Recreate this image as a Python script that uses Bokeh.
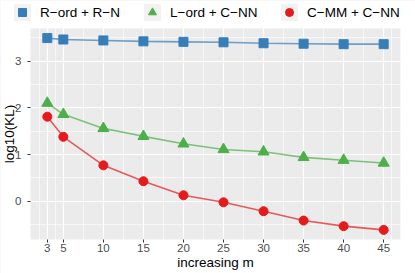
import math
from bokeh.plotting import figure
from bokeh.models import Range1d, FixedTicker, Legend, LegendItem, BoxAnnotation, Label
from bokeh.embed import file_html
from bokeh.resources import INLINE

# ---- data ----
m = [3, 5, 10, 15, 20, 25, 30, 35, 40, 45]
rord_rn = [3.49, 3.46, 3.44, 3.42, 3.41, 3.40, 3.38, 3.37, 3.36, 3.36]
lord_cnn = [2.10, 1.86, 1.56, 1.39, 1.23, 1.11, 1.06, 0.94, 0.88, 0.82]
cmm_cnn = [1.81, 1.38, 0.77, 0.43, 0.13, -0.02, -0.21, -0.41, -0.53, -0.61]
series_names = ["R\u2212ord + R\u2212N", "L\u2212ord + C\u2212NN", "C\u2212MM + C\u2212NN"]
x_ticks = [3, 5, 10, 15, 20, 25, 30, 35, 40, 45]
y_ticks = [0, 1, 2, 3]

colors = ["#377EB8", "#4DAF4A", "#E41A1C"]
markers = ["square", "triangle", "circle"]
msizes = [9, 11, 9]
FONT = "Liberation Sans"

# ---- layout (pixels inside the canvas, frame = whole canvas) ----
W, H = 415, 273
PL, PR, PT, PB = 30, 400, 28, 239      # panel edges
YTITLE_X = 9                            # centre of y title
XTITLE_Y = 262                          # centre of x title
LEG_H = 20
LEG_CY = 12
leg_x = [12, 142, 279]                  # legend item left edges
KEY = 17                                # legend key background size

# panel data extents (ggplot-like 5% expansion)
allv = rord_rn + lord_cnn + cmm_cnn
ylo, yhi = min(allv), max(allv)
dy = (yhi - ylo) * 0.05
xlo, xhi = min(m), max(m)
dx = (xhi - xlo) * 0.05
px0, px1 = xlo - dx, xhi + dx
py0, py1 = ylo - dy, yhi + dy
kx = (px1 - px0) / (PR - PL)
ky = (py1 - py0) / (PB - PT)
xr = Range1d(px0 - PL * kx, px1 + (W - PR) * kx)
yr = Range1d(py0 - (H - PB) * ky, py1 + PT * ky)

def X(px):
    return xr.start + px * kx

def Y(py):
    return yr.end - py * ky

p = figure(width=W, height=H, output_backend="svg", toolbar_location=None,
           x_range=xr, y_range=yr,
           min_border_left=0, min_border_right=0, min_border_top=0, min_border_bottom=0)
p.outline_line_color = None
p.background_fill_color = "#EBEBEB"
p.border_fill_color = "white"

# minor breaks like ggplot
def minor_breaks(b, lo, hi):
    bd = b[1] - b[0]
    bb = list(b)
    if lo < bb[0]:
        bb = [bb[0] - bd] + bb
    if hi > bb[-1]:
        bb = bb + [bb[-1] + bd]
    mids = [(bb[i] + bb[i + 1]) / 2 for i in range(len(bb) - 1)]
    return [v for v in mids if lo <= v <= hi]

p.xaxis.ticker = FixedTicker(ticks=x_ticks, minor_ticks=minor_breaks(x_ticks, px0, px1))
p.yaxis.ticker = FixedTicker(ticks=y_ticks, minor_ticks=minor_breaks(y_ticks, py0, py1))

for g in (p.xgrid, p.ygrid):
    g.grid_line_color = "white"
    g.grid_line_width = 1.2
    g.minor_grid_line_color = "white"
    g.minor_grid_line_width = 0.6

# white surround outside the panel (drawn over the grid, under glyphs/axes)
for kw in (dict(bottom=py1), dict(top=py0), dict(right=px0), dict(left=px1)):
    p.add_layout(BoxAnnotation(fill_color="white", fill_alpha=1.0, line_color=None,
                               level="underlay", **kw))

p.xaxis.fixed_location = py0
p.yaxis.fixed_location = px0
for ax in (p.xaxis, p.yaxis):
    ax.axis_line_color = None
    ax.major_tick_line_color = "#333333"
    ax.major_tick_out = 3
    ax.major_tick_in = 0
    ax.minor_tick_line_color = None
    ax.major_label_text_font = FONT
    ax.major_label_text_font_size = "11.5px"
    ax.major_label_text_color = "#4D4D4D"
p.xaxis.major_label_standoff = 0
p.yaxis.major_label_standoff = 5

# lines then points
ys = [rord_rn, lord_cnn, cmm_cnn]
for yv, c in zip(ys, colors):
    p.line(m, yv, line_color=c, line_width=1.6, line_alpha=0.7)
pts = []
for yv, c, mk, s in zip(ys, colors, markers, msizes):
    pts.append(p.scatter(m, yv, marker=mk, size=s, fill_color=c, line_color=c))

# axis titles
p.add_layout(Label(x=(px0 + px1) / 2, y=Y(XTITLE_Y), text="increasing m",
                   text_align="center", text_baseline="middle",
                   text_font=FONT, text_font_size="13.5px", text_color="black"))
p.add_layout(Label(x=X(YTITLE_X), y=(py0 + py1) / 2, text="log10(KL)",
                   angle=math.pi / 2, text_align="center", text_baseline="middle",
                   text_font=FONT, text_font_size="13.5px", text_color="black"))

# legend key backgrounds
for lx in leg_x:
    cx = lx + LEG_H / 2
    p.add_layout(BoxAnnotation(left=X(cx - KEY / 2), right=X(cx + KEY / 2),
                               top=Y(LEG_CY - KEY / 2), bottom=Y(LEG_CY + KEY / 2),
                               fill_color="#F2F2F2", fill_alpha=1.0, line_color=None))

# legend items
for n, r, lx in zip(series_names, pts, leg_x):
    lg = Legend(items=[LegendItem(label=n, renderers=[r])], orientation="horizontal",
                location=(lx, H - (LEG_CY + LEG_H / 2)), glyph_width=LEG_H, glyph_height=LEG_H,
                label_standoff=8, padding=0, margin=0, border_line_color=None,
                background_fill_alpha=0, label_text_font=FONT, label_text_font_size="13.5px",
                label_height=LEG_H, label_text_color="black")
    p.add_layout(lg)

open("out.html", "w").write(file_html(p, INLINE))
